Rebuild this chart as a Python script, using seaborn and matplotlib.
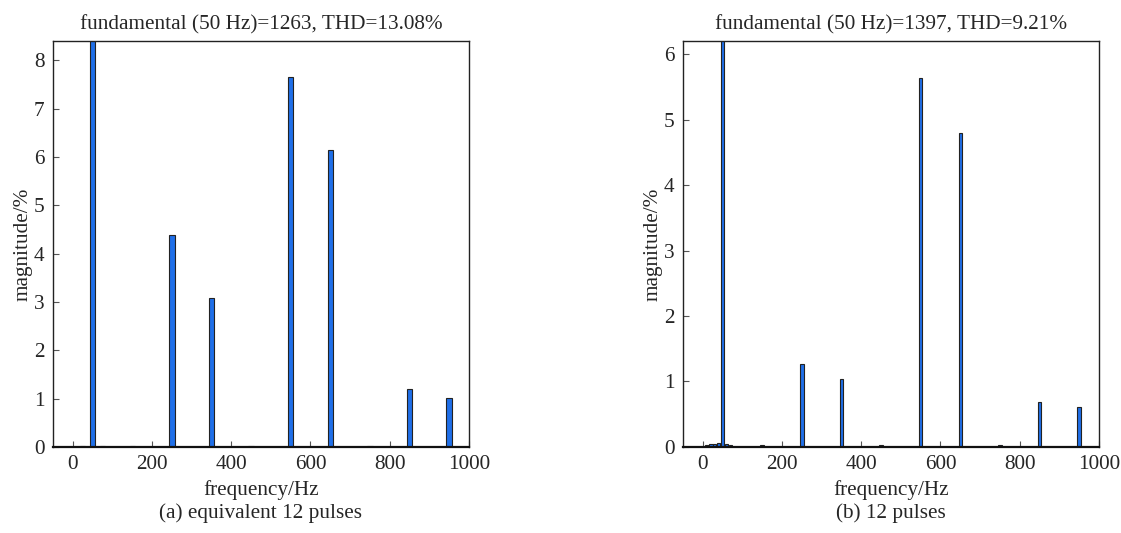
import seaborn as sns
import matplotlib.pyplot as plt
import pandas as pd

# Harmonic spectra (magnitude in % of fundamental)
freq_a = [25, 50, 75, 150, 250, 350, 450, 550, 650, 750, 850, 950]
mag_a = [0.02, 100.0, 0.02, 0.03, 4.39, 3.08, 0.03, 7.65, 6.15, 0.03, 1.20, 1.01]

freq_b = [10, 20, 30, 40, 50, 60, 70, 150, 250, 350, 450, 550, 650, 750, 850, 950]
mag_b = [0.03, 0.04, 0.05, 0.06, 100.0, 0.05, 0.03, 0.03, 1.27, 1.04, 0.03, 5.64, 4.79, 0.03, 0.69, 0.61]

titles = ["fundamental (50 Hz)=1263, THD=13.08%", "fundamental (50 Hz)=1397, THD=9.21%"]
captions = ["(a) equivalent 12 pulses", "(b) 12 pulses"]
ylims = [8.4, 6.2]

sns.set_style("white")
plt.rcParams['font.family'] = ['Liberation Serif', 'DejaVu Serif']
plt.rcParams['font.size'] = 15
plt.rcParams['mathtext.default'] = 'regular'

fs = 15.3

fig = plt.figure(figsize=(11.21, 5.33), dpi=100)
ax_a = fig.add_axes([0.0473, 0.1614, 0.371, 0.7617])
ax_b = fig.add_axes([0.6093, 0.1614, 0.371, 0.7617])

datasets = [(freq_a, mag_a, 0.55), (freq_b, mag_b, 0.9)]

for i, ax in enumerate([ax_a, ax_b]):
    f, m, w = datasets[i]
    df = pd.DataFrame({'freq': f, 'mag': m})
    sns.barplot(data=df, x='freq', y='mag', native_scale=True, width=w,
                color='#1f6fe8', saturation=1, edgecolor='#222222',
                linewidth=0.8, errorbar=None, ax=ax)
    ax.set_xlim(-50, 1000)
    ax.set_ylim(0, ylims[i])
    ax.set_xticks([0, 200, 400, 600, 800, 1000])
    ax.set_yticks(range(0, int(ylims[i]) + 1))
    ax.tick_params(direction='in', length=4, width=0.8, color='#555555',
                   labelsize=fs, pad=6, bottom=True, left=True)
    for side in ['top', 'right', 'left']:
        ax.spines[side].set_color('#222222')
        ax.spines[side].set_linewidth(1.0)
    ax.spines['bottom'].set_color('#111111')
    ax.spines['bottom'].set_linewidth(1.6)
    ax.set_title(titles[i], fontsize=fs, pad=8)
    ax.set_xlabel('frequency/Hz', fontsize=fs, labelpad=4)
    ax.set_ylabel('magnitude/%', fontsize=fs, labelpad=1)
    ax.text(0.5, -0.163, captions[i], transform=ax.transAxes,
            ha='center', va='center', fontsize=fs)

plt.savefig('out.png', dpi=100)
